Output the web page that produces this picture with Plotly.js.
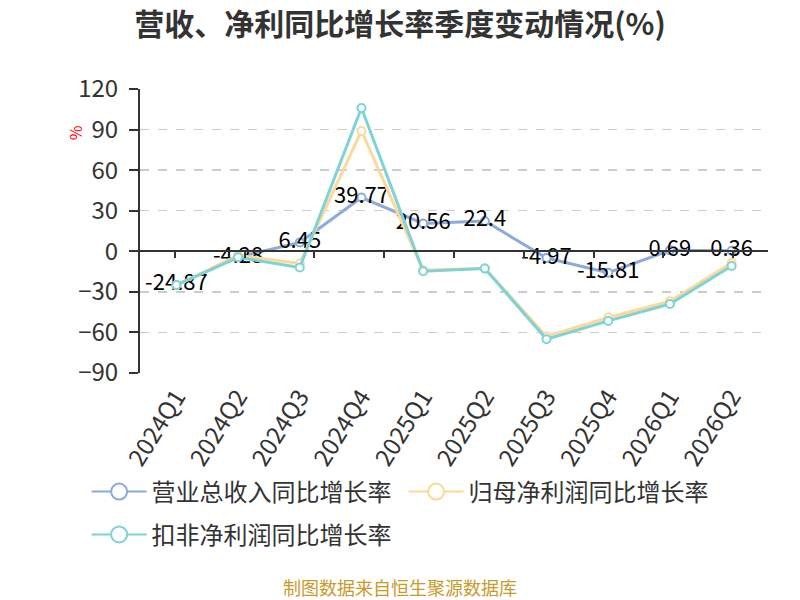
<!DOCTYPE html>
<html>
<head>
<meta charset="utf-8">
<script src="https://cdn.plot.ly/plotly-3.0.1.min.js"></script>
<style>
  body { margin: 0; background: #fff; }
  #chart { width: 800px; height: 600px; }
</style>
</head>
<body>
<div id="chart"></div>
<script>
// quarters on the x axis
const quarters = ['2024Q1', '2024Q2', '2024Q3', '2024Q4', '2025Q1',
                  '2025Q2', '2025Q3', '2025Q4', '2026Q1', '2026Q2'];

// year-on-year growth, %
const revenueGrowth = [-24.87, -4.28, 6.45, 39.77, 20.56, 22.4, -4.97, -15.81, 0.69, 0.36];
const netProfitGrowth = [-25, -3, -9, 89, -14, -12.5, -63, -49, -37, -8.4];
const deductedProfitGrowth = [-25, -4.5, -12, 106, -14.8, -12.8, -65, -51.5, -39, -10.9];

const seriesNames = ['营业总收入同比增长率', '归母净利润同比增长率', '扣非净利润同比增长率'];
const colors = ['#8eaadc', '#fdd89a', '#7fd3d5'];

const font = 'Noto Sans CJK SC, Noto Sans, sans-serif';

function lineTrace(name, values, color, withText) {
    let trace = {
        x: quarters,
        y: values,
        name: name,
        type: 'scatter',
        mode: withText ? 'lines+markers+text' : 'lines+markers',
        line: { color: color, width: 3 },
        marker: { size: 8, color: '#ffffff', line: { color: color, width: 2 } },
        showlegend: false,
        hoverinfo: 'y'
    };
    if (withText) {
        trace.text = values.map(v => String(v));
        trace.textposition = 'middle center';
        trace.textfont = { size: 22, color: '#000000', family: font };
    }
    return trace;
}

// legend entries only (bigger symbols than the plotted markers)
function legendTrace(name, color, legendId) {
    return {
        x: [null],
        y: [null],
        name: name,
        type: 'scatter',
        mode: 'lines+markers',
        legend: legendId,
        line: { color: color, width: 2 },
        marker: { size: 18, color: '#ffffff', line: { color: color, width: 2 } },
        hoverinfo: 'skip'
    };
}

const data = [
    lineTrace(seriesNames[0], revenueGrowth, colors[0], true),
    lineTrace(seriesNames[1], netProfitGrowth, colors[1], false),
    lineTrace(seriesNames[2], deductedProfitGrowth, colors[2], false),
    legendTrace(seriesNames[0], colors[0], 'legend'),
    legendTrace(seriesNames[1], colors[1], 'legend'),
    legendTrace(seriesNames[2], colors[2], 'legend2'),
    // invisible trace so the zero-line axis with boundary ticks is drawn
    { x: quarters, y: revenueGrowth, xaxis: 'x2', type: 'scatter', mode: 'none',
      showlegend: false, hoverinfo: 'skip' }
];

const yMin = -90, yMax = 120;

const legendStyle = {
    orientation: 'h',
    x: -0.085, xanchor: 'left',
    yanchor: 'middle',
    font: { size: 24, color: '#333333' },
    entrywidth: 247,
    itemwidth: 55,
    tracegroupgap: 0
};

const layout = {
    width: 800,
    height: 600,
    font: { family: font, color: '#333333', size: 18 },
    paper_bgcolor: '#ffffff',
    plot_bgcolor: '#ffffff',
    margin: { l: 140, r: 32, t: 89, b: 227 },
    title: {
        text: '<b>营收、净利同比增长率季度变动情况(%)</b>',
        font: { size: 30, color: '#333333', family: font },
        x: 0.5, xanchor: 'center',
        y: 0.96, yanchor: 'middle'
    },
    xaxis: {
        type: 'category',
        showline: false,
        showgrid: false,
        zeroline: false,
        ticks: '',
        tickangle: -58,
        ticklabelstandoff: 4,
        tickfont: { size: 24, color: '#333333' }
    },
    xaxis2: {
        type: 'category',
        overlaying: 'x',
        anchor: 'free',
        position: (0 - yMin) / (yMax - yMin),
        showline: true,
        linecolor: '#333333',
        linewidth: 2,
        ticks: 'outside',
        tickson: 'boundaries',
        ticklen: 6,
        tickwidth: 2,
        tickcolor: '#333333',
        showticklabels: false,
        showgrid: false
    },
    yaxis: {
        range: [yMin, yMax],
        tickvals: [-90, -60, -30, 0, 30, 60, 90, 120],
        showline: true,
        linecolor: '#333333',
        linewidth: 2,
        ticks: 'outside',
        ticklen: 9,
        tickwidth: 2,
        tickcolor: '#333333',
        ticklabelstandoff: 6,
        showgrid: true,
        gridcolor: '#cccccc',
        griddash: 'dash',
        gridwidth: 1.5,
        zeroline: false,
        tickfont: { size: 24, color: '#333333' }
    },
    showlegend: true,
    legend: Object.assign({}, legendStyle, { y: -0.419 }),
    legend2: Object.assign({}, legendStyle, { y: -0.57 }),
    annotations: [
        {
            text: '%',
            xref: 'paper', yref: 'paper',
            x: -0.103, xanchor: 'center',
            y: 0.845, yanchor: 'middle',
            textangle: -90,
            showarrow: false,
            font: { size: 16, color: '#ff0000', family: font }
        },
        {
            text: '制图数据来自恒生聚源数据库',
            xref: 'paper', yref: 'paper',
            x: 0.414, xanchor: 'center',
            y: -0.752, yanchor: 'middle',
            showarrow: false,
            font: { size: 18, color: '#c89a2c', family: font }
        }
    ]
};

Plotly.newPlot('chart', data, layout, { displayModeBar: false, staticPlot: true });
</script>
</body>
</html>
